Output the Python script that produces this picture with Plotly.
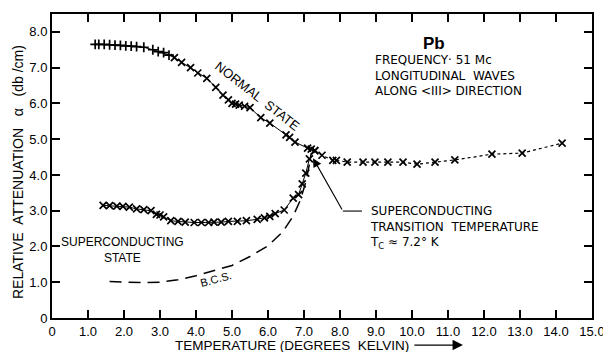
import plotly.graph_objects as go

# ---- data ----
normal_T = [1.2, 1.3, 1.45, 1.6, 1.75, 1.9, 2.05, 2.2, 2.35, 2.55, 2.8, 2.95, 3.1, 3.25, 3.4,
            3.6, 3.85, 4.05, 4.3, 4.55, 4.75, 4.9, 5.0, 5.1, 5.2, 5.35, 5.5, 5.8, 6.05, 6.5,
            6.6, 6.75, 7.1, 7.2, 7.3]
normal_a = [7.65, 7.65, 7.65, 7.64, 7.63, 7.62, 7.61, 7.6, 7.59, 7.57, 7.5, 7.45, 7.42, 7.35, 7.28,
            7.15, 7.0, 6.85, 6.7, 6.45, 6.23, 6.1, 6.0, 5.98, 5.95, 5.92, 5.88, 5.6, 5.45, 5.12,
            5.05, 4.92, 4.75, 4.72, 4.68]

above_T = [7.3, 7.5, 7.8, 7.9, 8.2, 8.64, 8.97, 9.33, 9.75, 10.14, 10.64, 11.19, 12.22, 13.06, 14.17]
above_a = [4.68, 4.55, 4.41, 4.41, 4.36, 4.36, 4.36, 4.36, 4.36, 4.3, 4.36, 4.42, 4.58, 4.61, 4.89]

super_T = [1.42, 1.6, 1.8, 1.97, 2.15, 2.35, 2.55, 2.75, 2.9, 3.0, 3.1, 3.3, 3.5, 3.7, 3.95,
           4.15, 4.35, 4.5, 4.7, 4.9, 5.15, 5.4, 5.7, 5.9, 6.05, 6.2, 6.45, 6.7, 6.85, 6.95,
           7.05, 7.15]
super_a = [3.15, 3.14, 3.13, 3.12, 3.1, 3.05, 3.03, 3.0, 2.9, 2.88, 2.83, 2.72, 2.7, 2.68, 2.67,
           2.67, 2.67, 2.68, 2.68, 2.7, 2.7, 2.72, 2.76, 2.8, 2.84, 2.92, 3.02, 3.35, 3.45, 3.75,
           4.05, 4.45]

bcs_T = [1.6, 2.0, 2.5, 3.0, 3.5, 4.0, 4.5, 5.0, 5.5, 6.0, 6.4, 6.7, 6.9, 7.05, 7.15, 7.2]
bcs_a = [1.02, 1.0, 0.99, 1.0, 1.07, 1.18, 1.32, 1.47, 1.72, 2.02, 2.4, 2.85, 3.3, 3.8, 4.3, 4.6]

x_ticks = list(range(0, 16))
x_labels = ["0"] + [f"{v}.0" for v in range(1, 16)]
y_ticks = list(range(0, 9))
y_labels = ["0"] + [f"{v}.0" for v in range(1, 9)]

FONT = "Liberation Sans"
WIDE = "DejaVu Sans"
BLACK = "black"

fig = go.Figure()

# BCS curve
fig.add_trace(go.Scatter(x=bcs_T, y=bcs_a, mode="lines",
                         line=dict(color=BLACK, width=1.5, dash="12px,7px"),
                         showlegend=False, hoverinfo="skip"))

# superconducting state
fig.add_trace(go.Scatter(x=super_T, y=super_a, mode="lines+markers",
                         line=dict(color=BLACK, width=1),
                         marker=dict(symbol="x-thin", size=7, line=dict(color=BLACK, width=1.7)),
                         showlegend=False))

# normal state below Tc
sym = ["cross-thin" if t < 3.3 else "x-thin" for t in normal_T]
fig.add_trace(go.Scatter(x=normal_T, y=normal_a, mode="lines+markers",
                         line=dict(color=BLACK, width=1),
                         marker=dict(symbol=sym, size=7, line=dict(color=BLACK, width=1.7)),
                         showlegend=False))

# normal state above Tc
fig.add_trace(go.Scatter(x=above_T, y=above_a, mode="lines+markers",
                         line=dict(color=BLACK, width=1.2, dash="3px,3px"),
                         marker=dict(symbol="x-thin", size=7, line=dict(color=BLACK, width=1.7)),
                         showlegend=False))

axis_common = dict(showline=True, linecolor=BLACK, linewidth=2, mirror="allticks",
                   ticks="inside", ticklen=8, tickwidth=1.5, tickcolor=BLACK,
                   showgrid=False, zeroline=False, automargin=False,
                   tickfont=dict(family=FONT, size=13, color=BLACK))

fig.update_xaxes(range=[0, 15], tickvals=x_ticks, ticktext=x_labels,
                 ticklabeloverflow="allow", **axis_common)
fig.update_yaxes(range=[0, 8.5], tickvals=y_ticks, ticktext=y_labels, **axis_common)

ann = []
def txt(x, y, text, size=12, angle=0, xanchor="center", align="center", bold=False, family=FONT):
    ann.append(dict(x=x, y=y, xref="x", yref="y", text=(f"<b>{text}</b>" if bold else text),
                    showarrow=False, textangle=angle, xanchor=xanchor, yanchor="middle",
                    align=align, font=dict(family=family, size=size, color=BLACK)))

txt(5.72, 6.2, "NORMAL\u00a0\u00a0STATE", size=13, angle=38)
txt(10.6, 7.68, "Pb", size=17, bold=True)
txt(8.92, 6.79, "FREQUENCY\u00b7 51 Mc<br>LONGITUDINAL\u00a0\u00a0WAVES<br>ALONG &lt;III&gt; DIRECTION",
    size=12, xanchor="left", align="left", family=WIDE)
txt(8.78, 2.54, "SUPERCONDUCTING<br>TRANSITION\u00a0\u00a0TEMPERATURE<br>T<sub>C</sub> \u2248 7.2\u00b0 K",
    size=12, xanchor="left", align="left", family=WIDE)
txt(1.96, 1.9, "SUPERCONDUCTING<br>STATE", size=12)
txt(4.56, 1.08, "B.C.S.", size=11, angle=-15)

# arrow to Tc
ann.append(dict(x=7.25, y=4.47, xref="x", yref="y", ax=8.08, ay=2.99, axref="x", ayref="y",
                text="", showarrow=True, arrowhead=2, arrowsize=1.6, arrowwidth=1.1,
                arrowcolor=BLACK))

# axis titles
ann.append(dict(x=0.445, y=-0.092, xref="paper", yref="paper", showarrow=False,
                text="TEMPERATURE\u00a0(DEGREES\u00a0\u00a0KELVIN)", xanchor="center", yanchor="middle",
                font=dict(family=FONT, size=13.5, color=BLACK)))
ann.append(dict(x=0.761, y=-0.089, xref="paper", yref="paper", ax=-50, ay=0,
                text="", showarrow=True, arrowhead=2, arrowsize=1.6, arrowwidth=1.3,
                arrowcolor=BLACK))
ann.append(dict(x=-0.063, y=0.48, xref="paper", yref="paper", showarrow=False, textangle=-90,
                text="RELATIVE\u00a0\u00a0ATTENUATION\u00a0\u00a0\u00a0\u03b1\u00a0\u00a0\u00a0(db\u00a0/cm)",
                xanchor="center", yanchor="middle",
                font=dict(family=FONT, size=14, color=BLACK)))

fig.update_layout(
    width=603, height=352,
    margin=dict(l=52, r=11, t=14, b=34),
    paper_bgcolor="white", plot_bgcolor="white",
    annotations=ann,
    shapes=[dict(type="line", xref="x", yref="y", x0=8.08, y0=2.99, x1=8.61, y1=2.99,
                 line=dict(color=BLACK, width=1.1))],
)

fig.write_html("out.html", config={"displayModeBar": False},
               post_script="document.body.style.margin='0px';")
